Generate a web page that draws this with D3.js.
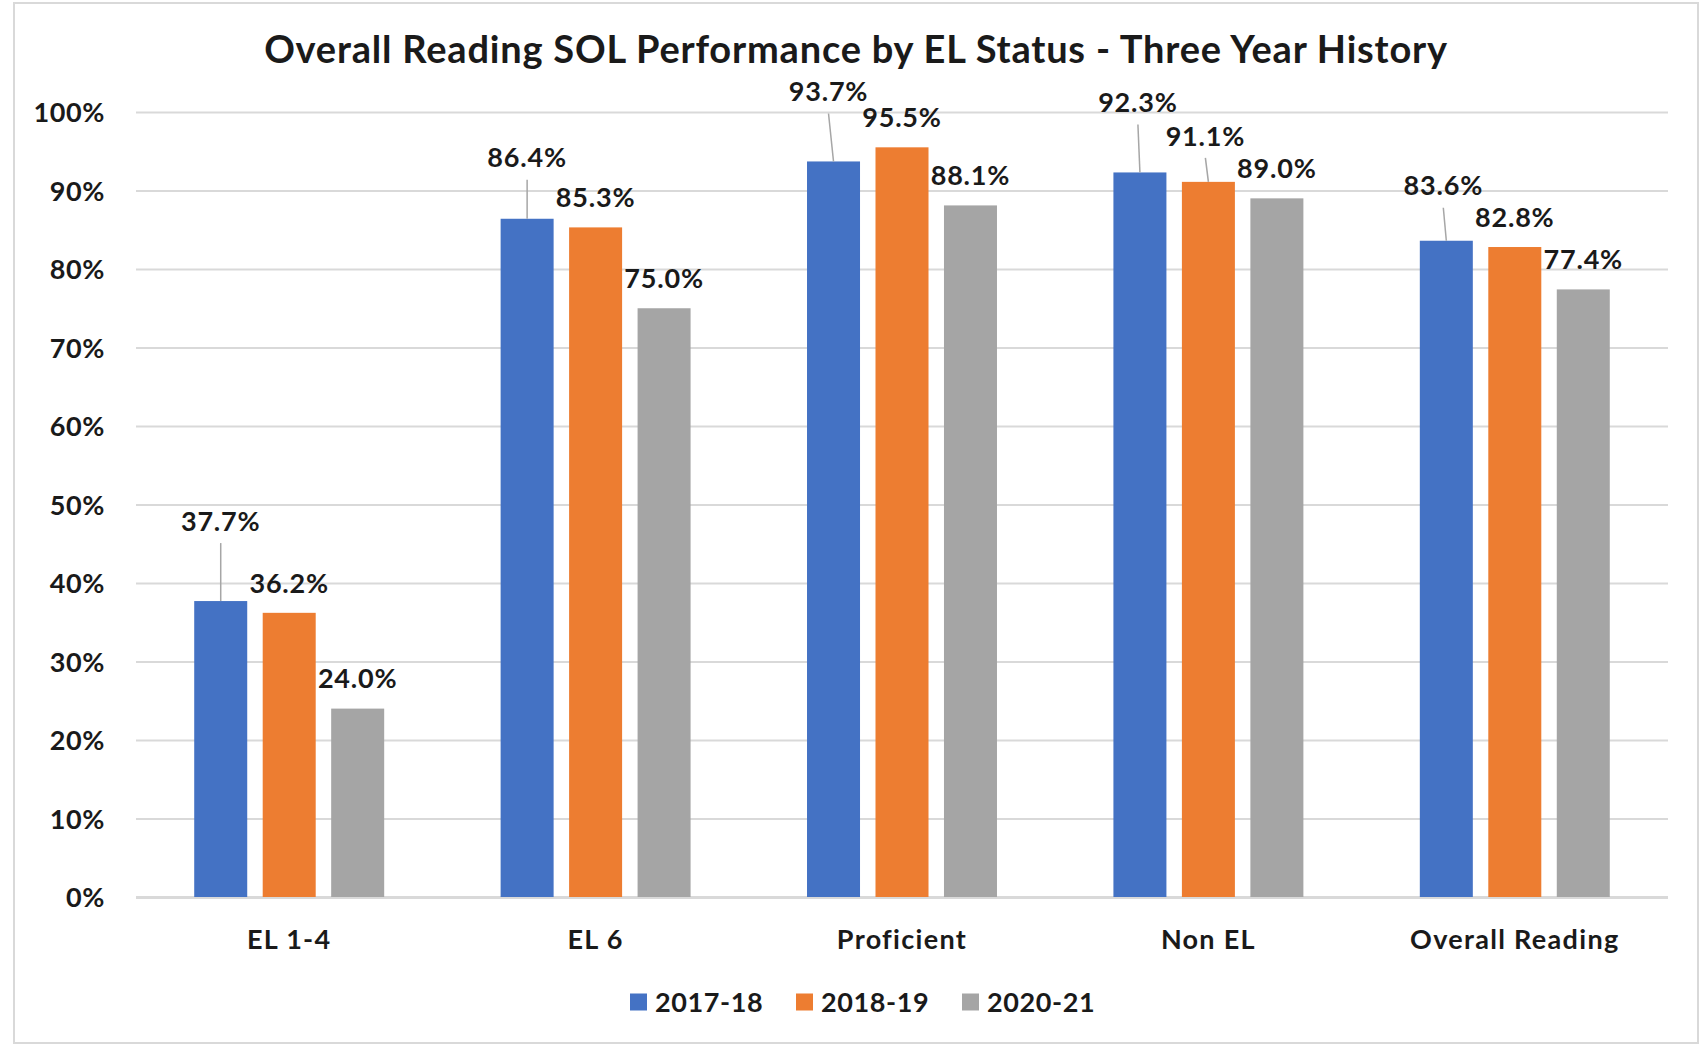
<!DOCTYPE html>
<html>
<head>
<meta charset="utf-8">
<script src="https://cdn.jsdelivr.net/npm/d3@7"></script>
<style>
  html, body { margin: 0; padding: 0; background: #fff; }
  svg { display: block; }
  text { font-family: Lato, "Open Sans", sans-serif; fill: #1a1a1a; }
</style>
</head>
<body>
<div id="chart"></div>
<script>
// Chart data
const categories = ['EL 1-4', 'EL 6', 'Proficient', 'Non EL', 'Overall Reading'];
const seriesNames = ['2017-18', '2018-19', '2020-21'];
const values2017 = [37.7, 86.4, 93.7, 92.3, 83.6];
const values2018 = [36.2, 85.3, 95.5, 91.1, 82.8];
const values2020 = [24.0, 75.0, 88.1, 89.0, 77.4];
const yTicks = [0, 10, 20, 30, 40, 50, 60, 70, 80, 90, 100];

// Labels that were dragged away from the bar in the original (get a leader line)
const labelNudges = [
  { cat: 'EL 1-4', series: '2017-18', dx: 0, dy: -50 },
  { cat: 'EL 6', series: '2017-18', dx: 0, dy: -31 },
  { cat: 'Proficient', series: '2017-18', dx: -5, dy: -40 },
  { cat: 'Non EL', series: '2017-18', dx: -2, dy: -40 },
  { cat: 'Non EL', series: '2018-19', dx: -3, dy: -16 },
  { cat: 'Overall Reading', series: '2017-18', dx: -3, dy: -25 }
];

const colors = { '2017-18': '#4472C4', '2018-19': '#ED7D31', '2020-21': '#A5A5A5' };

const W = 1703, H = 1045;
const plot = { left: 136, right: 1668, top: 112, bottom: 897 };

const seriesValues = [values2017, values2018, values2020];
const rows = categories.map((c, i) => ({
  cat: c,
  bars: seriesNames.map((s, j) => ({ cat: c, series: s, value: seriesValues[j][i] }))
}));

const svg = d3.select('#chart').append('svg')
  .attr('width', W)
  .attr('height', H);

// outer chart border
svg.append('rect')
  .attr('x', 14).attr('y', 3)
  .attr('width', 1684).attr('height', 1040)
  .attr('fill', '#fff')
  .attr('stroke', '#d9d9d9')
  .attr('stroke-width', 2);

const x0 = d3.scaleBand()
  .domain(categories)
  .range([plot.left, plot.right])
  .paddingInner(0.38)
  .paddingOuter(0.19);

const x1 = d3.scaleBand()
  .domain(seriesNames)
  .range([0, x0.bandwidth()])
  .paddingInner(0.226);

const y = d3.scaleLinear()
  .domain([0, 100])
  .range([plot.bottom, plot.top]);

// gridlines + y labels
const yAxis = svg.append('g')
  .attr('transform', `translate(${plot.left},0)`)
  .call(d3.axisLeft(y)
    .tickValues(yTicks)
    .tickSize(-(plot.right - plot.left))
    .tickPadding(31)
    .tickFormat(d => d + '%'));
yAxis.select('.domain').remove();
yAxis.selectAll('.tick line')
  .attr('stroke', '#d9d9d9')
  .attr('stroke-width', d => d === 0 ? 3 : 2);
yAxis.selectAll('.tick text')
  .attr('font-size', 27)
  .attr('font-weight', 700)
  .attr('letter-spacing', 0.6)
  .attr('fill', '#1a1a1a')
  .attr('dy', '0.36em');

// bars
const groups = svg.append('g').selectAll('g')
  .data(rows)
  .join('g')
  .attr('transform', d => `translate(${x0(d.cat)},0)`);

groups.selectAll('rect')
  .data(d => d.bars)
  .join('rect')
  .attr('x', d => x1(d.series))
  .attr('y', d => y(d.value))
  .attr('width', x1.bandwidth())
  .attr('height', d => y(0) - y(d.value))
  .attr('fill', d => colors[d.series]);

// data labels
const labelLayer = svg.append('g');
rows.forEach(r => {
  r.bars.forEach(b => {
    const cx = x0(b.cat) + x1(b.series) + x1.bandwidth() / 2;
    const top = y(b.value);
    const n = labelNudges.find(o => o.cat === b.cat && o.series === b.series);
    const lx = cx + (n ? n.dx : 0);
    const ly = top - 30 + (n ? n.dy : 0);
    if (n) {
      labelLayer.append('line')
        .attr('x1', lx).attr('y1', ly + 22)
        .attr('x2', cx).attr('y2', top)
        .attr('stroke', '#a6a6a6')
        .attr('stroke-width', 1.5);
    }
    labelLayer.append('text')
      .attr('x', lx)
      .attr('y', ly)
      .attr('dy', '0.36em')
      .attr('text-anchor', 'middle')
      .attr('font-size', 27)
      .attr('font-weight', 700)
      .attr('letter-spacing', 0.8)
      .text(b.value.toFixed(1) + '%');
  });
});

// category labels
svg.append('g').selectAll('text')
  .data(categories)
  .join('text')
  .attr('x', d => x0(d) + x0.bandwidth() / 2)
  .attr('y', 939)
  .attr('dy', '0.36em')
  .attr('text-anchor', 'middle')
  .attr('font-size', 27)
  .attr('font-weight', 700)
  .attr('letter-spacing', 1.3)
  .text(d => d);

// title
svg.append('text')
  .attr('x', 856)
  .attr('y', 63)
  .attr('text-anchor', 'middle')
  .attr('font-size', 38)
  .attr('font-weight', 700)
  .attr('letter-spacing', 0.8)
  .text('Overall Reading SOL Performance by EL Status - Three Year History');

// legend
const legend = svg.append('g').attr('transform', 'translate(630,1002)');
const item = legend.selectAll('g')
  .data(seriesNames)
  .join('g')
  .attr('transform', (d, i) => `translate(${i * 166},0)`);
item.append('rect')
  .attr('x', 0).attr('y', -8.5)
  .attr('width', 17).attr('height', 17)
  .attr('fill', d => colors[d]);
item.append('text')
  .attr('x', 25)
  .attr('dy', '0.36em')
  .attr('font-size', 27)
  .attr('font-weight', 700)
  .attr('letter-spacing', 0.6)
  .text(d => d);
</script>
</body>
</html>
